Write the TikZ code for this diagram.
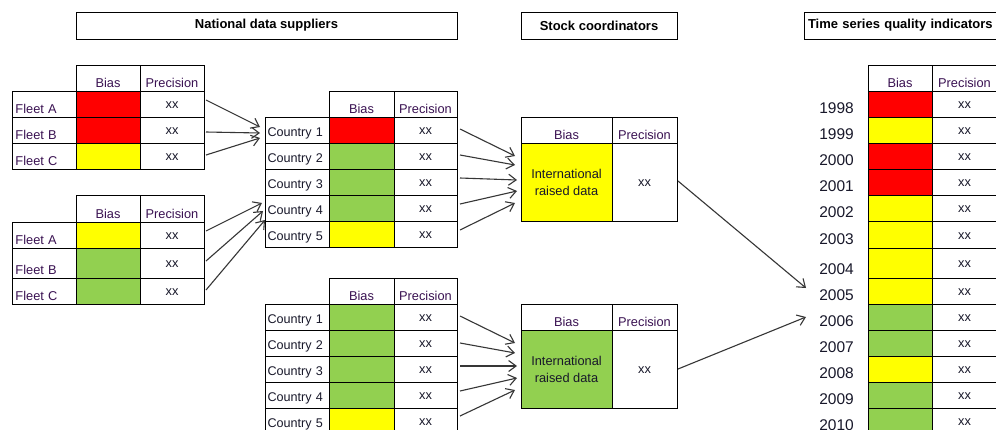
\documentclass[tikz,border=0pt]{standalone}
\usepackage{fontspec}
\setmainfont{Liberation Sans}
\usetikzlibrary{arrows.meta}
\definecolor{cred}{HTML}{FF0000}
\definecolor{cyel}{HTML}{FFFF00}
\definecolor{cgrn}{HTML}{92D050}
\definecolor{lbl}{HTML}{3A1252}
\definecolor{txt}{HTML}{18182A}
\definecolor{arr}{HTML}{363636}
\begin{document}
\begin{tikzpicture}[x=1pt,y=-1pt,
  cell/.style={draw=black, line width=1pt, inner sep=0pt, outer sep=0pt, anchor=north west, text=txt, font=\fontsize{12.8}{17}\selectfont},
  hd/.style={cell, text=lbl, minimum height=26pt, text depth=4pt, text height=22pt},
  xx26/.style={cell, minimum height=26pt, text depth=8.5pt, text height=17.5pt},
  cty/.style={cell, minimum width=64pt, minimum height=26pt, text width=59pt, inner xsep=2.5pt, align=left, text depth=7pt, text height=19pt, font=\fontsize{12.6}{15}\selectfont},
  ttl/.style={draw=black, line width=1pt, inner sep=0pt, outer sep=0pt, anchor=north west, minimum height=27pt, font=\bfseries\fontsize{13}{15}\selectfont},
  conn/.style={draw=arr, line width=1.1pt, -{Straight Barb[length=7.5pt,width=11pt,line width=1.1pt]}},
  yr/.style={anchor=base east, inner sep=0pt, text=txt, font=\fontsize{15.5}{18}\selectfont},
]
\useasboundingbox (0,0) rectangle (996,429);
\fill[white] (0,0) rectangle (996,429);
\clip (0,0) rectangle (996,429);

% titles
\node[ttl, minimum width=381pt] (tnat) at (76,12) {National data suppliers};
\node[ttl, minimum width=156pt] (tstk) at (521,12) {Stock coordinators};
\node[ttl, minimum width=230pt, text width=222pt, inner xsep=4pt, align=left] (tts) at (804,12) {Time series quality indicators};

% fleet table 1
\node[hd, minimum width=64pt] (f1h-b) at (76,65) {Bias};
\node[hd, minimum width=64pt] (f1h-p) at (140,65) {Precision};
\foreach \n/\y/\h/\c in {A/91/26/cred,B/117/26/cred,C/143/26/cyel}{
  \pgfmathsetmacro\la{\h-4}
  \pgfmathsetmacro\xa{\h/2+4.5}
  \pgfmathsetmacro\xd{\h/2-4.5}
  \node[cell, text=lbl, minimum width=64pt, minimum height=\h pt, text width=57pt, inner xsep=3.5pt, align=left, text depth=4pt, text height=\la pt] (f1\n-l) at (12,\y) {Fleet~\n};
  \node[cell, fill=\c, minimum width=64pt, minimum height=\h pt] (f1\n-b) at (76,\y) {};
  \node[cell, minimum width=64pt, minimum height=\h pt, text depth=\xd pt, text height=\xa pt] (f1\n-p) at (140,\y) {xx};
}

% fleet table 2
\node[hd, minimum width=64pt, minimum height=27pt, text height=23pt] (f2h-b) at (76,195) {Bias};
\node[hd, minimum width=64pt, minimum height=27pt, text height=23pt] (f2h-p) at (140,195) {Precision};
\foreach \n/\y/\h/\c in {A/222/26/cyel,B/248/30/cgrn,C/278/26/cgrn}{
  \pgfmathsetmacro\la{\h-4}
  \pgfmathsetmacro\xa{\h/2+4.5}
  \pgfmathsetmacro\xd{\h/2-4.5}
  \node[cell, text=lbl, minimum width=64pt, minimum height=\h pt, text width=57pt, inner xsep=3.5pt, align=left, text depth=4pt, text height=\la pt] (f2\n-l) at (12,\y) {Fleet~\n};
  \node[cell, fill=\c, minimum width=64pt, minimum height=\h pt] (f2\n-b) at (76,\y) {};
  \node[cell, minimum width=64pt, minimum height=\h pt, text depth=\xd pt, text height=\xa pt] (f2\n-p) at (140,\y) {xx};
}

% country table 1
\node[hd, minimum width=65pt] (c1h-b) at (329,91) {Bias};
\node[hd, minimum width=63pt] (c1h-p) at (394,91) {Precision};
\foreach \n/\y/\c in {1/117/cred,2/143/cgrn,3/169/cgrn,4/195/cgrn,5/221/cyel}{
  \node[cty] (c1\n-l) at (265,\y) {Country~\n};
  \node[cell, fill=\c, minimum width=65pt, minimum height=26pt] (c1\n-b) at (329,\y) {};
  \node[xx26, minimum width=63pt] (c1\n-p) at (394,\y) {xx};
}

% country table 2
\node[hd, minimum width=65pt] (c2h-b) at (329,278) {Bias};
\node[hd, minimum width=63pt] (c2h-p) at (394,278) {Precision};
\foreach \n/\y/\c in {1/304/cgrn,2/330/cgrn,3/356/cgrn,4/382/cgrn,5/408/cyel}{
  \node[cty] (c2\n-l) at (265,\y) {Country~\n};
  \node[cell, fill=\c, minimum width=65pt, minimum height=26pt] (c2\n-b) at (329,\y) {};
  \node[xx26, minimum width=63pt] (c2\n-p) at (394,\y) {xx};
}

% stock coordinators
\node[hd, minimum width=91pt] (s1h-b) at (521,117) {Bias};
\node[hd, minimum width=65pt] (s1h-p) at (612,117) {Precision};
\node[cell, fill=cyel, minimum width=91pt, minimum height=78pt, align=center] (s1-b) at (521,143) {International\\raised data};
\node[cell, minimum width=65pt, minimum height=78pt, text depth=34.5pt, text height=43.5pt] (s1-p) at (612,143) {xx};

\node[hd, minimum width=91pt] (s2h-b) at (521,304) {Bias};
\node[hd, minimum width=65pt] (s2h-p) at (612,304) {Precision};
\node[cell, fill=cgrn, minimum width=91pt, minimum height=78pt, align=center] (s2-b) at (521,330) {International\\raised data};
\node[cell, minimum width=65pt, minimum height=78pt, text depth=34.5pt, text height=43.5pt] (s2-p) at (612,330) {xx};

% time series
\node[hd, minimum width=64pt] (tsh-b) at (868,65) {Bias};
\node[hd, minimum width=65pt] (tsh-p) at (932,65) {Precision};
\foreach \yr/\y/\h/\c in {1998/91/26/cred,1999/117/26/cyel,2000/143/26/cred,2001/169/26/cred,2002/195/26/cyel,2003/221/27/cyel,2004/248/30/cyel,2005/278/26/cyel,2006/304/26/cgrn,2007/330/26/cgrn,2008/356/26/cyel,2009/382/26/cgrn,2010/408/26/cgrn}{
  \pgfmathsetmacro\xa{\h/2+4.5}
  \pgfmathsetmacro\xd{\h/2-4.5}
  \node[yr] (ts\yr-y) at (854,{\y+\h-4}) {\yr};
  \node[cell, fill=\c, minimum width=64pt, minimum height=\h pt] (ts\yr-b) at (868,\y) {};
  \node[cell, minimum width=65pt, minimum height=\h pt, text depth=\xd pt, text height=\xa pt] (ts\yr-p) at (932,\y) {xx};
}

% arrow tips
\coordinate (a1) at (260,127);
\coordinate (a2) at (260,133);
\coordinate (a3) at (260,138);
\coordinate (a4) at (262,203);
\coordinate (a5) at (263,211);
\coordinate (a6) at (265,220);
\coordinate (b1) at (515,156);
\coordinate (b2) at (515,165);
\coordinate (b3) at (517,180);
\coordinate (b4) at (517,191);
\coordinate (b5) at (515,203);
\coordinate (d1) at (515,343);
\coordinate (d2) at (515,353);
\coordinate (d3) at (517,366);
\coordinate (d4) at (517,378);
\coordinate (d5) at (515,390);
\coordinate (e1) at (806,288);
\coordinate (e2) at (806,317);

\draw[conn] ([xshift=2pt,yshift=4pt]f1A-p.east) -- (a1);
\draw[conn] ([xshift=2pt,yshift=-2pt]f1B-p.east) -- (a2);
\draw[conn] ([xshift=2pt,yshift=1pt]f1C-p.east) -- (a3);
\draw[conn] ([xshift=2pt,yshift=4pt]f2A-p.east) -- (a4);
\draw[conn] ([xshift=2pt,yshift=2pt]f2B-p.east) -- (a5);
\draw[conn] ([xshift=2pt,yshift=1pt]f2C-p.east) -- (a6);

\draw[conn] ([xshift=3pt,yshift=1pt]c11-p.east) -- (b1);
\draw[conn] ([xshift=3pt,yshift=1pt]c12-p.east) -- (b2);
\draw[conn] ([xshift=3pt,yshift=4pt]c13-p.east) -- (b3);
\draw[conn] ([xshift=3pt,yshift=4pt]c14-p.east) -- (b4);
\draw[conn] ([xshift=3pt,yshift=4pt]c15-p.east) -- (b5);

\draw[conn] ([xshift=3pt,yshift=1pt]c21-p.east) -- (d1);
\draw[conn] ([xshift=3pt]c22-p.east) -- (d2);
\draw[conn] ([xshift=3pt,yshift=3pt]c23-p.east) -- (d3);
\draw[conn] ([xshift=3pt,yshift=4pt]c24-p.east) -- (d4);
\draw[conn] ([xshift=3pt,yshift=5pt]c25-p.east) -- (d5);

\draw[conn] ([xshift=1pt,yshift=1pt]s1-p.east) -- (e1);
\draw[conn] ([xshift=1pt]s2-p.east) -- (e2);
\end{tikzpicture}
\end{document}
